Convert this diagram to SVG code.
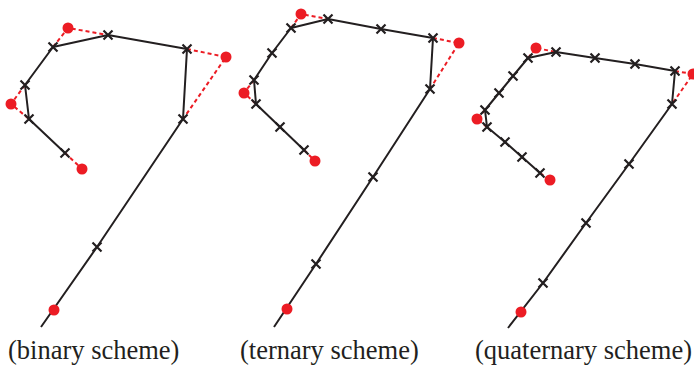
<svg xmlns="http://www.w3.org/2000/svg" xmlns:xlink="http://www.w3.org/1999/xlink" width="694" height="370" viewBox="0 0 694 370">
<style>
.poly{fill:none;stroke:#231f20;stroke-width:2;stroke-linejoin:round;stroke-linecap:butt}
.dash{fill:none;stroke:#ec1c24;stroke-width:2;stroke-dasharray:4 3}
.dot{fill:#ec1c24}
.lbl{font-family:"Liberation Serif","Times New Roman",serif;font-size:26.5px;fill:#231f20}
</style>
<defs>
<path id="x" d="M-4.5,-4.5L4.5,4.5M-4.5,4.5L4.5,-4.5" stroke="#231f20" stroke-width="2.2" fill="none"/>
</defs>
<g id="connectors">
<polyline class="dash" points="65,153 82,169"/>
<polyline class="dash" points="25,85 11,104 29,119"/>
<polyline class="dash" points="53,47 68,28 108,35"/>
<polyline class="dash" points="187,49 226,57 183,119"/>
<polyline class="poly" points="41,327 97,247 183,119 187,49 108,35 53,47 25,85 29,119 65,153"/>

<polyline class="dash" points="304,150 315,161"/>
<polyline class="dash" points="254,80 244,93 256,104"/>
<polyline class="dash" points="291,28 301,14 328,19"/>
<polyline class="dash" points="433,38 459,43 430,89"/>
<polyline class="poly" points="274,327 316,264 373,177 430,89 433,38 381,29 328,19 291,28 272,53 254,80 256,104 280,127 304,150"/>

<polyline class="dash" points="540,173 550,180"/>
<polyline class="dash" points="485,110 477,119 487,127"/>
<polyline class="dash" points="528,58 536,48 556,52"/>
<polyline class="dash" points="675,71 693,74 672,104"/>
<polyline class="poly" points="508,328 543,283 586,223 629,164 672,104 675,71 635,64 595,58 556,52 528,58 513,76 499,93 485,110 487,127 505,142 522,157 540,173"/>
</g>
<g id="binary">
<circle class="dot" cx="68" cy="28" r="5.5"/>
<circle class="dot" cx="226" cy="57" r="5.5"/>
<circle class="dot" cx="11" cy="104" r="5.5"/>
<circle class="dot" cx="82" cy="169" r="5.5"/>
<circle class="dot" cx="54" cy="310" r="5.5"/>
<use xlink:href="#x" x="53" y="47"/>
<use xlink:href="#x" x="108" y="35"/>
<use xlink:href="#x" x="187" y="49"/>
<use xlink:href="#x" x="25" y="85"/>
<use xlink:href="#x" x="29" y="119"/>
<use xlink:href="#x" x="65" y="153"/>
<use xlink:href="#x" x="183" y="119"/>
<use xlink:href="#x" x="97" y="247"/>
<text class="lbl" x="8" y="359">(binary scheme)</text>
</g>
<g id="ternary">
<circle class="dot" cx="301" cy="14" r="5.5"/>
<circle class="dot" cx="459" cy="43" r="5.5"/>
<circle class="dot" cx="244" cy="93" r="5.5"/>
<circle class="dot" cx="315" cy="161" r="5.5"/>
<circle class="dot" cx="287" cy="309" r="5.5"/>
<use xlink:href="#x" x="291" y="28"/>
<use xlink:href="#x" x="328" y="19"/>
<use xlink:href="#x" x="381" y="29"/>
<use xlink:href="#x" x="433" y="38"/>
<use xlink:href="#x" x="430" y="89"/>
<use xlink:href="#x" x="373" y="177"/>
<use xlink:href="#x" x="316" y="264"/>
<use xlink:href="#x" x="272" y="53"/>
<use xlink:href="#x" x="254" y="80"/>
<use xlink:href="#x" x="256" y="104"/>
<use xlink:href="#x" x="280" y="127"/>
<use xlink:href="#x" x="304" y="150"/>
<text class="lbl" x="240" y="359">(ternary scheme)</text>
</g>
<g id="quaternary">
<circle class="dot" cx="536" cy="48" r="5.5"/>
<circle class="dot" cx="693" cy="74" r="5.5"/>
<circle class="dot" cx="477" cy="119" r="5.5"/>
<circle class="dot" cx="550" cy="180" r="5.5"/>
<circle class="dot" cx="521" cy="312" r="5.5"/>
<use xlink:href="#x" x="556" y="52"/>
<use xlink:href="#x" x="528" y="58"/>
<use xlink:href="#x" x="513" y="76"/>
<use xlink:href="#x" x="499" y="93"/>
<use xlink:href="#x" x="485" y="110"/>
<use xlink:href="#x" x="487" y="127"/>
<use xlink:href="#x" x="505" y="142"/>
<use xlink:href="#x" x="522" y="157"/>
<use xlink:href="#x" x="540" y="173"/>
<use xlink:href="#x" x="595" y="58"/>
<use xlink:href="#x" x="635" y="64"/>
<use xlink:href="#x" x="675" y="71"/>
<use xlink:href="#x" x="672" y="104"/>
<use xlink:href="#x" x="629" y="164"/>
<use xlink:href="#x" x="586" y="223"/>
<use xlink:href="#x" x="543" y="283"/>
<text class="lbl" x="692" y="359" text-anchor="end">(quaternary scheme)</text>
</g>
</svg>
